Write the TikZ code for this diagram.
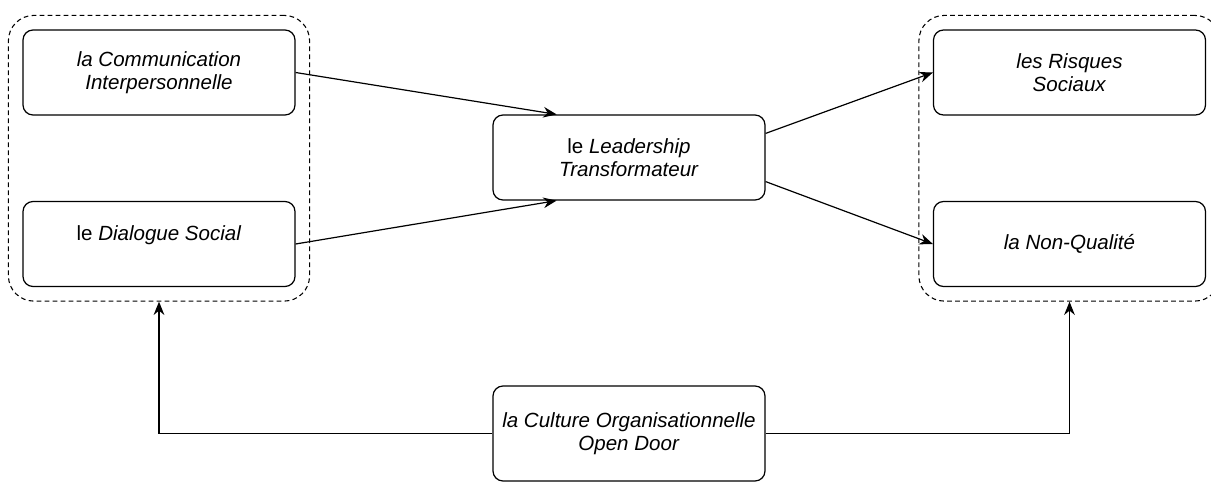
\documentclass[tikz,border=0pt]{standalone}
\usepackage{fontspec}
\setmainfont{Liberation Sans}
\usetikzlibrary{arrows.meta,fit,calc}

\begin{document}
\begin{tikzpicture}[x=0.75pt, y=-0.75pt, >={Stealth[length=10pt,width=8pt]},
  font=\fontsize{15.4}{16.8}\selectfont, line width=0.9pt,
  box/.style={draw, rounded corners=7.5pt, align=center,
    minimum width=204pt, minimum height=63.75pt, inner sep=2pt},
  group/.style={draw, line width=0.8pt, dash pattern=on 3.5pt off 2.5pt,
    rounded corners=19pt, inner sep=10.5pt}]
\useasboundingbox (0,0) rectangle (1211,482);
\node[box] (comm)  at (159,72.5)   {\textit{la Communication}\\\textit{Interpersonnelle}};
\node[box] (dial)  at (159,244)    {le \textit{Dialogue Social}\\\mbox{}};
\node[box] (lead)  at (629,157.5)  {le \textit{Leadership}\\\textit{Transformateur}};
\node[box] (risk)  at (1069.5,72.5) {\textit{les Risques}\\\textit{Sociaux}};
\node[box] (nonq)  at (1069.5,244)  {\textit{la Non-Qualité}};
\node[box, minimum height=71.25pt] (cult) at (629,433.5)
  {\textit{la Culture Organisationnelle}\\\textit{Open Door}};
\node[group, fit=(comm)(dial)] (left) {};
\node[group, fit=(risk)(nonq)] (right) {};
\draw[->] (comm.east) -- ($(lead.north west)!0.47!(lead.north)$);
\draw[->] (dial.east) -- ($(lead.south west)!0.47!(lead.south)$);
\draw[->] (lead.10) -- (risk.west);
\draw[->] (lead.-10) -- (nonq.west);
\draw[->] (cult.west) -| (left.south);
\draw[->] (cult.east) -| (right.south);
\end{tikzpicture}
\end{document}
